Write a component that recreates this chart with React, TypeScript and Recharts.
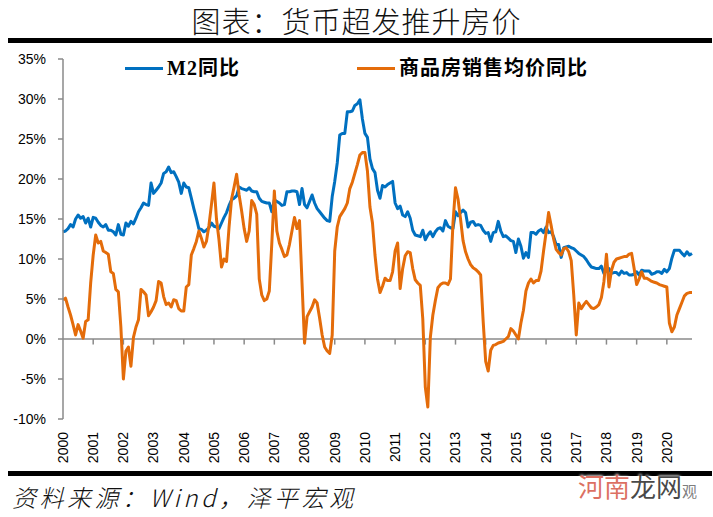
import React from "react";
import { LineChart, Line, XAxis, YAxis, ReferenceLine } from "recharts";

// 月度数据：2000年1月 - 2020年11月，单位 %
const years = [
  "2000", "2001", "2002", "2003", "2004", "2005", "2006", "2007", "2008", "2009", "2010",
  "2011", "2012", "2013", "2014", "2015", "2016", "2017", "2018", "2019", "2020",
];

// M2同比
const m2Growth = [
  13.4, 13.5, 13.8, 14.3, 14.0, 15.0, 15.5, 15.1, 15.3, 14.5, 15.1, 14.0,
  15.2, 15.1, 14.6, 14.2, 14.0, 14.3, 13.6, 13.6, 13.4, 13.0, 14.3, 13.1,
  13.0, 14.5, 14.1, 14.7, 14.4, 15.1, 15.9, 16.4, 17.0, 16.8, 16.7, 19.5,
  18.2, 18.6, 19.0, 19.5, 20.7, 20.9, 21.5, 20.8, 20.9, 20.3, 19.6, 18.2,
  19.5, 19.0, 18.9, 17.6, 16.3, 15.1, 13.8, 13.7, 13.4, 13.6, 13.9, 14.5,
  14.1, 14.0, 13.8, 14.5, 15.2, 15.8, 16.7, 17.4, 17.6, 17.9, 19.0, 18.8,
  18.7, 18.6, 18.9, 18.5, 18.4, 18.4, 17.6, 17.2, 17.1, 17.0, 17.0, 15.9,
  17.4, 17.2, 17.0, 16.7, 16.8, 18.4, 18.4, 18.5, 18.5, 18.4, 16.8, 18.8,
  16.8, 16.4, 17.2, 18.0, 17.0, 16.3, 15.9, 15.5, 15.1, 14.8, 14.7, 17.8,
  19.7, 22.0, 25.5, 25.7, 25.7, 28.4, 28.4, 28.5, 29.2, 29.4, 29.9, 27.5,
  25.7, 25.2, 22.5, 21.3, 20.8, 18.6, 17.6, 19.2, 19.0, 19.3, 19.5, 19.7,
  17.0, 16.3, 16.6, 15.5, 15.3, 15.9, 15.1, 13.6, 13.0, 12.9, 12.8, 13.6,
  12.4, 13.0, 13.4, 12.8, 13.4, 13.8, 13.9, 13.5, 14.8, 14.1, 13.9, 13.8,
  15.9, 15.4, 15.8, 16.1, 15.8, 14.0, 14.6, 14.7, 14.2, 14.3, 14.2, 13.6,
  13.2, 13.3, 12.2, 13.3, 13.4, 14.7, 13.5, 12.8, 12.9, 12.6, 12.3, 12.2,
  10.8, 12.5, 11.6, 10.1, 10.8, 10.2, 13.3, 13.3, 13.1, 13.5, 13.7, 13.3,
  14.0, 13.3, 13.4, 12.8, 11.8, 11.8, 10.2, 11.4, 11.5, 11.6, 11.4, 11.3,
  11.0, 10.7, 10.5, 10.3, 9.9, 9.4, 9.0, 8.9, 8.8, 8.8, 9.1, 8.2,
  8.6, 8.8, 8.2, 8.3, 8.3, 8.0, 8.5, 8.2, 8.3, 8.0, 8.0, 8.1,
  8.4, 8.0, 8.6, 8.5, 8.5, 8.5, 8.1, 8.2, 8.4, 8.4, 8.2, 8.7,
  8.4, 8.8, 10.1, 11.1, 11.1, 11.1, 10.7, 10.4, 10.9, 10.5, 10.7,
];

// 商品房销售均价同比
const housePriceGrowth = [
  4.9, 5.1, 4.0, 3.0, 1.8, 0.5, 1.8, 1.0, 0.1, 2.2, 2.4, 7.0,
  10.5, 13.0, 12.0, 12.2, 11.0, 10.8, 10.6, 8.4, 8.2, 6.2, 5.9, 1.5,
  -5.0, -1.5, -1.0, -3.4, 0.2, 1.5, 2.4, 6.2, 5.9, 5.5, 2.9, 3.4,
  4.0, 4.8, 7.2, 7.0, 5.3, 4.3, 4.5, 4.0, 4.9, 4.8, 3.8, 3.5,
  3.5, 6.5, 6.8, 10.5, 11.3, 12.2, 13.5, 12.6, 11.5, 12.2, 14.2, 16.8,
  19.5, 15.0, 12.4, 9.0, 10.0, 9.7, 14.0, 17.5, 19.0, 20.6, 18.0, 16.0,
  13.8, 12.2, 13.5, 17.3, 16.8, 15.6, 7.5, 5.5, 4.8, 5.0, 6.0, 12.0,
  18.5, 13.5, 12.0, 11.2, 10.3, 10.5, 11.8, 13.5, 15.2, 13.8, 14.8, 7.0,
  -0.5, 2.8, 3.4, 4.0, 4.9, 4.5, 2.6, 0.5, -1.0, -1.5, -1.8, 0.5,
  11.0, 14.0, 15.3, 15.8, 16.3, 17.0, 18.8, 19.6, 20.7, 21.8, 23.0, 23.3,
  23.3, 21.0, 16.5, 14.5, 10.5, 7.5, 5.8, 6.6, 7.6, 7.3, 7.3, 8.4,
  11.0, 12.0, 6.3, 8.8, 10.4, 10.9, 10.8, 8.8, 7.4, 7.0, 6.7, 2.5,
  -6.0, -8.5, 0.2, 3.0, 4.8, 6.4, 6.8, 7.0, 7.0, 6.8, 7.5, 14.5,
  18.9, 17.5, 15.0, 12.3, 10.9, 10.0, 9.3, 8.9, 8.7, 8.4, 8.0, 2.2,
  -2.8, -4.0, -1.4, -0.8, -0.7, -0.5, -0.4, -0.3, 0.0, 0.3, 1.3, 1.0,
  0.5, 0.0, 2.0, 3.6, 6.0, 7.0, 7.5, 7.0, 7.3, 7.3, 8.5, 11.0,
  13.3, 15.8, 14.2, 12.5, 11.2, 10.8, 10.5, 11.3, 11.4, 10.9, 9.8, 5.5,
  0.5, 4.5, 3.8, 4.3, 4.7, 4.3, 3.9, 3.8, 4.0, 4.3, 5.2, 7.2,
  10.6, 6.5, 8.6, 9.6, 10.0, 10.1, 10.2, 10.3, 10.3, 10.6, 10.7, 8.8,
  6.8, 7.5, 8.4, 7.6, 7.6, 7.4, 7.2, 7.1, 7.0, 6.8, 6.7, 6.6,
  6.5, 2.0, 0.9, 1.5, 3.0, 3.8, 4.6, 5.4, 5.7, 5.8, 5.8,
];

const percentTicks = [-10, -5, 0, 5, 10, 15, 20, 25, 30, 35];

const chartData = m2Growth.map((v, i) => ({
  month: i,
  m2: v,
  price: housePriceGrowth[i],
}));
const yearTicks = years.map((_, i) => i * 12);

const AXIS_GREY = "#8a8a8a";
const BLUE = "#0070C0";
const ORANGE = "#E46C0A";
const LABEL_FONT = "'Liberation Sans', Arial, sans-serif";
const CJK_FONT = "'Noto Sans CJK SC', sans-serif";

const YearTick = (props: any) => {
  const { x, y, payload } = props;
  return (
    <text
      x={x}
      y={y}
      transform={`rotate(-90, ${x}, ${y})`}
      textAnchor="end"
      dy="0.35em"
      fontSize={14}
      fontFamily={LABEL_FONT}
      fill="#000"
    >
      {years[Math.round(payload.value / 12)]}
    </text>
  );
};

const LegendItem = ({ left, color, label }: { left: number; color: string; label: string }) => (
  <div style={{ position: "absolute", left, top: 56, height: 24, display: "flex", alignItems: "center" }}>
    <div style={{ width: 38, height: 3, background: color, marginRight: 4 }} />
    <span
      style={{
        fontFamily: `'Liberation Serif', ${CJK_FONT}`,
        fontWeight: 700,
        fontSize: 20,
        lineHeight: "24px",
        color: "#000",
        letterSpacing: 1,
      }}
    >
      {label}
    </span>
  </div>
);

export default function App() {
  return (
    <div style={{ position: "relative", width: 713, height: 517, background: "#fff", overflow: "hidden" }}>
      <style>{`body { margin: 0; }`}</style>

      <div
        style={{
          position: "absolute",
          top: 3,
          left: 0,
          width: 713,
          textAlign: "center",
          fontFamily: CJK_FONT,
          fontWeight: 300,
          fontSize: 29,
          lineHeight: "34px",
          letterSpacing: 1,
          color: "#111",
        }}
      >
        图表：货币超发推升房价
      </div>
      <div style={{ position: "absolute", left: 8, top: 38, width: 704, height: 5, background: "#000" }} />

      <div style={{ position: "absolute", left: 0, top: 0 }}>
        <LineChart
          width={713}
          height={480}
          data={chartData}
          margin={{ top: 59, right: 21, bottom: 11, left: 8 }}
        >
          <XAxis
            type="number"
            dataKey="month"
            domain={[0, 250]}
            ticks={yearTicks}
            interval={0}
            axisLine={false}
            tickLine={false}
            tickSize={0}
            tickMargin={13}
            height={50}
            tick={<YearTick />}
          />
          <YAxis
            domain={[-10, 35]}
            ticks={percentTicks}
            interval={0}
            allowDataOverflow
            width={55}
            tickFormatter={(v: number) => `${v}%`}
            axisLine={{ stroke: AXIS_GREY, strokeWidth: 1.5 }}
            tickLine={{ stroke: AXIS_GREY, strokeWidth: 1.5 }}
            tickSize={5}
            tickMargin={12}
            tick={{ fontSize: 14, fill: "#000", fontFamily: LABEL_FONT }}
          />
          <ReferenceLine y={0} stroke={AXIS_GREY} strokeWidth={1.5} />
          {yearTicks.slice(1).map((m) => (
            <ReferenceLine
              key={m}
              segment={[
                { x: m, y: 0 },
                { x: m, y: -0.7 },
              ]}
              stroke={AXIS_GREY}
              strokeWidth={1.5}
            />
          ))}
          <Line
            type="linear"
            dataKey="m2"
            stroke={BLUE}
            strokeWidth={3}
            dot={false}
            strokeLinejoin="round"
            isAnimationActive={false}
          />
          <Line
            type="linear"
            dataKey="price"
            stroke={ORANGE}
            strokeWidth={3}
            dot={false}
            strokeLinejoin="round"
            isAnimationActive={false}
          />
        </LineChart>
      </div>

      <LegendItem left={125} color={BLUE} label="M2同比" />
      <LegendItem left={357} color={ORANGE} label="商品房销售均价同比" />

      <div style={{ position: "absolute", left: 8, top: 471, width: 704, height: 5, background: "#000" }} />
      <div
        style={{
          position: "absolute",
          left: 12,
          top: 482,
          fontFamily: CJK_FONT,
          fontWeight: 300,
          fontStyle: "italic",
          fontSize: 24,
          lineHeight: "30px",
          letterSpacing: 3.5,
          color: "#111",
        }}
      >
        资料来源：Wind，泽平宏观
      </div>
      <div
        style={{
          position: "absolute",
          left: 578,
          top: 470,
          fontFamily: CJK_FONT,
          fontSize: 26,
          lineHeight: "32px",
          textShadow: "0 0 3px #fff, 0 0 3px #fff",
        }}
      >
        <span style={{ color: "rgba(214, 86, 70, 0.85)" }}>河南</span>
        <span style={{ color: "rgba(40, 40, 40, 0.85)" }}>龙网</span>
        <span style={{ color: "rgba(90, 90, 90, 0.8)", fontSize: 15 }}>观</span>
      </div>
    </div>
  );
}
